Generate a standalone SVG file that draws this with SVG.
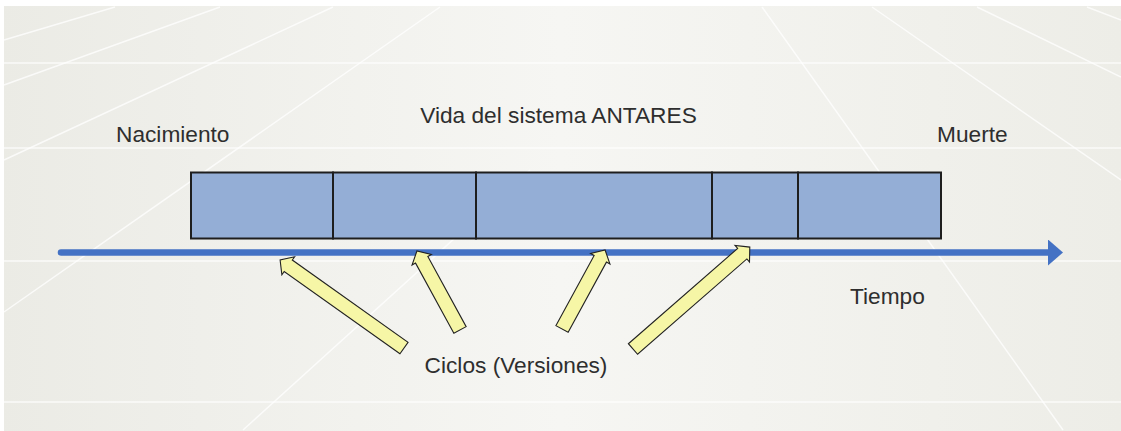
<svg xmlns="http://www.w3.org/2000/svg" width="1121" height="431" viewBox="0 0 1121 431">
  <defs>
    <linearGradient id="bg" x1="0" y1="0" x2="1" y2="0">
      <stop offset="0" stop-color="#ebebe5"/>
      <stop offset="0.5" stop-color="#f6f6f3"/>
      <stop offset="1" stop-color="#edede7"/>
    </linearGradient>
    <marker id="timeHead" markerUnits="userSpaceOnUse" markerWidth="16" markerHeight="26" refX="1" refY="13" orient="auto">
      <path d="M0,0 L15,13 L0,26 Z" fill="#4472c4"/>
    </marker>
  </defs>
  <style>
    .bgline { stroke: #ffffff; stroke-width: 1.5; fill: none; opacity: 0.75; }
    .box { fill: #94aed6; stroke: #1e1e1e; stroke-width: 2; }
    .lbl { font-family: "Liberation Sans", Arial, sans-serif; font-size: 22.7px; fill: #2e2e2e; }
    .cyc { fill: #f6f6a6; stroke: #222222; stroke-width: 1.1; stroke-linejoin: miter; }
  </style>

  <!-- background -->
  <rect x="0" y="0" width="1121" height="431" fill="url(#bg)"/>
  <rect x="0" y="0" width="1121" height="6" fill="#ffffff"/>
  <rect x="0" y="0" width="4" height="431" fill="#ffffff"/>
  <g id="background-lines">
    <line class="bgline" x1="4" y1="63" x2="1121" y2="63"/>
    <line class="bgline" x1="4" y1="148" x2="1121" y2="148"/>
    <line class="bgline" x1="4" y1="261" x2="1121" y2="261"/>
    <line class="bgline" x1="4" y1="402" x2="1121" y2="402"/>
    <line class="bgline" x1="4" y1="40" x2="115" y2="7"/>
    <line class="bgline" x1="4" y1="85" x2="220" y2="7"/>
    <line class="bgline" x1="4" y1="160" x2="333" y2="7"/>
    <line class="bgline" x1="4" y1="312" x2="440" y2="7"/>
    <line class="bgline" x1="243" y1="430" x2="530" y2="170"/>
    <line class="bgline" x1="762" y1="7" x2="1063" y2="430"/>
    <line class="bgline" x1="872" y1="7" x2="1121" y2="180"/>
    <line class="bgline" x1="977" y1="7" x2="1121" y2="77"/>
    <line class="bgline" x1="1087" y1="7" x2="1121" y2="20"/>
  </g>

  <!-- timeline -->
  <g id="connectors">
    <line x1="61" y1="252.5" x2="1049" y2="252.5" stroke="#4472c4" stroke-width="6.5" stroke-linecap="round" marker-end="url(#timeHead)"/>
  </g>

  <!-- version boxes -->
  <g id="box1"><rect class="box" x="191" y="172.5" width="142" height="66"/></g>
  <g id="box2"><rect class="box" x="333" y="172.5" width="143" height="66"/></g>
  <g id="box3"><rect class="box" x="476" y="172.5" width="236" height="66"/></g>
  <g id="box4"><rect class="box" x="712" y="172.5" width="86" height="66"/></g>
  <g id="box5"><rect class="box" x="798" y="172.5" width="143" height="66"/></g>

  <!-- cycle arrows -->
  <g id="cycle-arrow1" transform="translate(404,348) rotate(215.4)">
    <path class="cyc" d="M0,-7 L142,-7 L142,-11 L152,0 L142,11 L142,7 L0,7 Z"/>
  </g>
  <g id="cycle-arrow2" transform="translate(460,330) rotate(241.4)">
    <path class="cyc" d="M0,-7 L80,-7 L80,-11 L90,0 L80,11 L80,7 L0,7 Z"/>
  </g>
  <g id="cycle-arrow3" transform="translate(562,329) rotate(-61.4)">
    <path class="cyc" d="M0,-7 L80,-7 L80,-11 L90,0 L80,11 L80,7 L0,7 Z"/>
  </g>
  <g id="cycle-arrow4" transform="translate(633,349) rotate(-41.1)">
    <path class="cyc" d="M0,-7 L145,-7 L145,-11 L155,0 L145,11 L145,7 L0,7 Z"/>
  </g>

  <!-- labels -->
  <g id="title"><text class="lbl" x="558.5" y="123" text-anchor="middle">Vida del sistema ANTARES</text></g>
  <g id="nacimiento"><text class="lbl" x="116" y="142">Nacimiento</text></g>
  <g id="muerte"><text class="lbl" x="937" y="142">Muerte</text></g>
  <g id="tiempo"><text class="lbl" x="850" y="304">Tiempo</text></g>
  <g id="ciclos"><text class="lbl" x="516" y="373" text-anchor="middle" font-size="21.3">Ciclos (Versiones)</text></g>
</svg>
